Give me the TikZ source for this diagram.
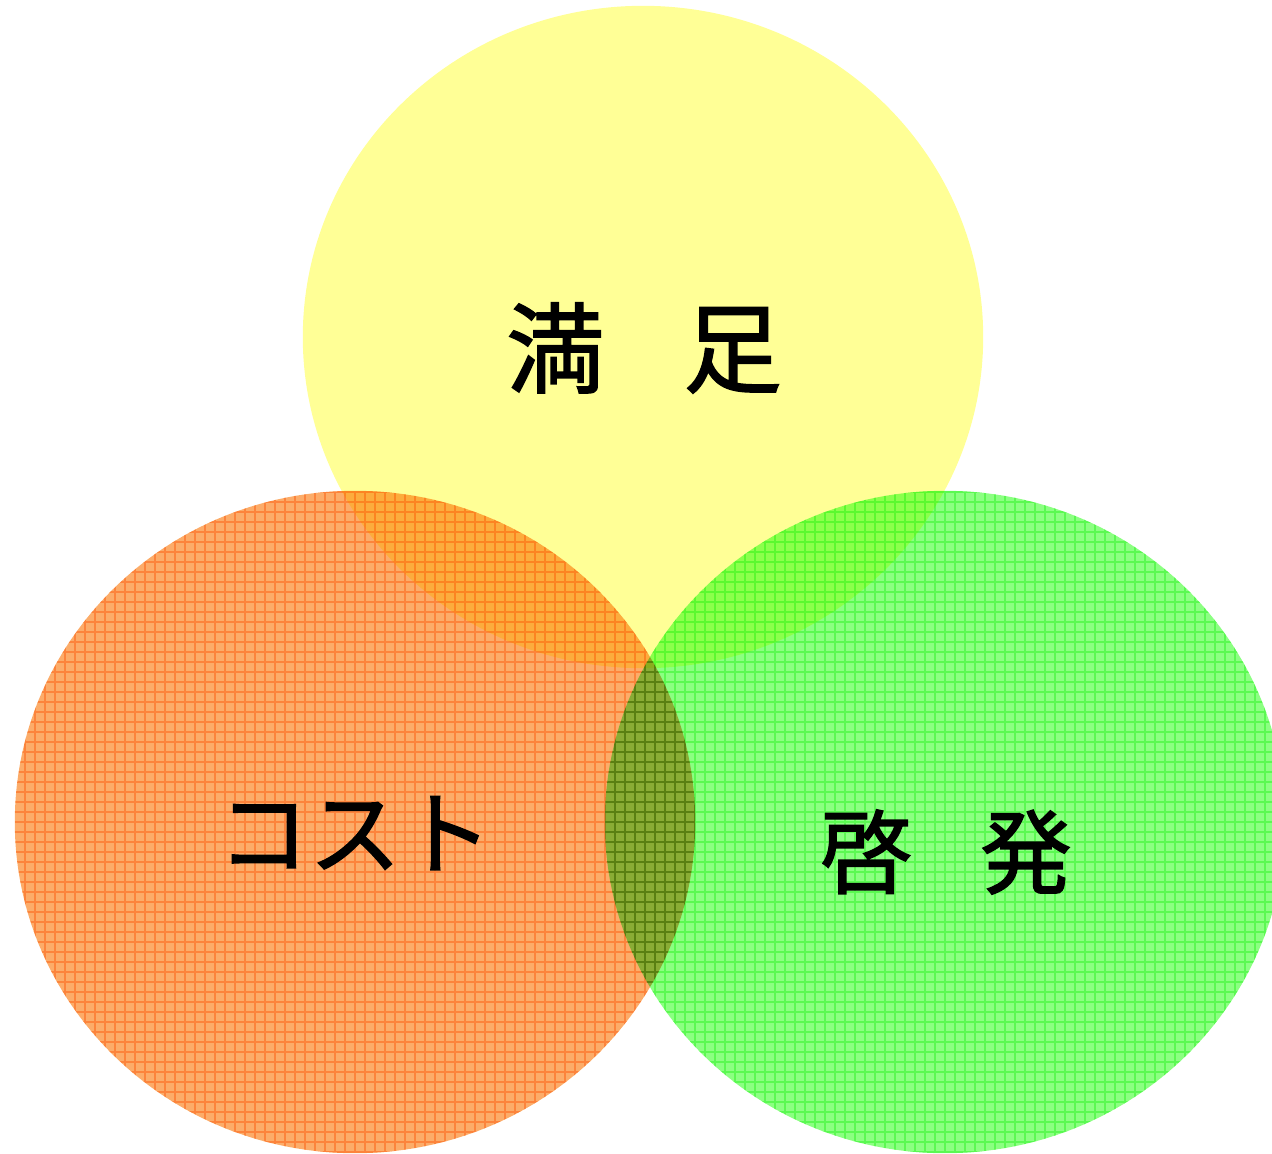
\documentclass[tikz,border=0pt]{standalone}
\usepackage{fontspec}
\newfontfamily\jp[FakeBold=1.6]{Noto Sans CJK JP}
\usetikzlibrary{shapes.geometric}
\definecolor{yel}{RGB}{255,255,150}
\definecolor{ora}{RGB}{252,172,105}
\definecolor{oraline}{RGB}{255,140,40}
\definecolor{grn}{RGB}{140,255,130}
\definecolor{grnline}{RGB}{80,245,70}
\begin{document}
\begin{tikzpicture}[x=0.01cm,y=-0.01cm,
  venn/.style={ellipse, inner sep=0pt, minimum width=6.8cm, minimum height=6.62cm},
  gridded/.style={path picture={\draw[#1, line width=0.6pt, draw opacity=0.5, step=0.1cm]
      (path picture bounding box.south west) grid (path picture bounding box.north east);}},
  biglabel/.style={font=\jp\fontsize{28}{30}\selectfont, inner sep=0pt},
  midlabel/.style={font=\jp\fontsize{26}{28}\selectfont, inner sep=0pt}]
\useasboundingbox (0,0) rectangle (1272,1154);
\node[venn, fill=yel] (sat) at (643,337) {};
\begin{scope}[blend mode=multiply]
\node[venn, fill=ora, gridded=oraline] (cost) at (355,822) {};
\node[venn, fill=grn, gridded=grnline] (edu) at (945,822) {};
\end{scope}
\node[biglabel] (tsat) at (644,348) {満\hspace{0.8em}足};
\node[midlabel] (tcost) at (355,833) {コスト};
\node[midlabel] (tedu) at (946,852) {啓\hspace{0.75em}発};
\end{tikzpicture}
\end{document}
